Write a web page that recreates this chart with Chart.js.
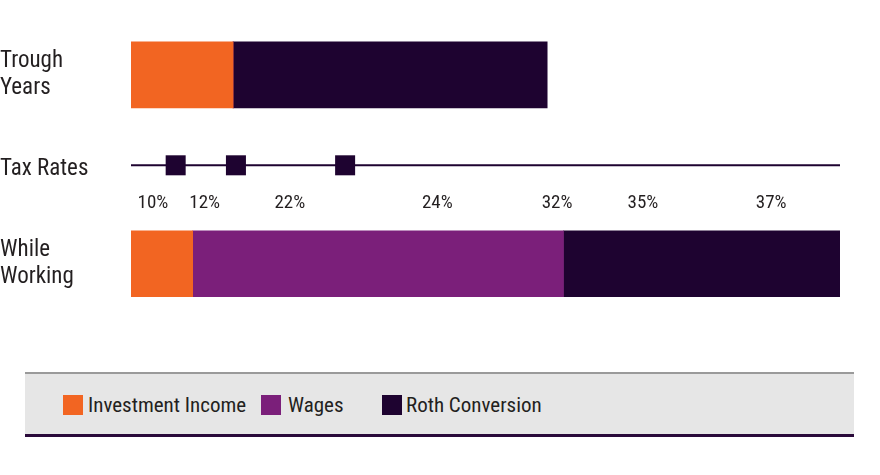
<!DOCTYPE html>
<html><head><meta charset="utf-8">
<script src="https://cdn.jsdelivr.net/npm/chart.js@4"></script>
<style>
body{margin:0;width:880px;height:475px;background:#fff;position:relative;font-family:'Liberation Sans Narrow','Roboto Condensed','Liberation Sans',sans-serif;}
#wrap{position:absolute;left:0;top:0;width:880px;height:340px;}
#legend{position:absolute;left:25px;top:372px;width:829px;height:60px;background:#e6e6e6;border-top:2px solid #9a9a9a;border-bottom:3px solid #2a0a3a;}
.it{position:absolute;top:20px;font-size:21px;color:#231f20;line-height:22px;}
.sw{position:absolute;left:-25px;top:1px;width:20px;height:20px;}
</style></head><body>
<div id="wrap"><canvas id="c"></canvas></div>
<div id="legend">
<div class="it" style="left:38px"><span class="sw" style="left:0;background:#f26522"></span><span style="margin-left:25px">Investment Income</span></div>
<div class="it" style="left:236px"><span class="sw" style="left:0;background:#7b1f7a"></span><span style="margin-left:27px">Wages</span></div>
<div class="it" style="left:357px"><span class="sw" style="left:0;background:#1e0330"></span><span style="margin-left:24px">Roth Conversion</span></div>
</div>
<script>
const categories=[["Trough","Years"],"Tax Rates",["While","Working"]];
const investmentIncome=[14.4,null,8.7];
const wages=[0,null,52.3];
const rothConversion=[44.3,null,39.0];
const markerPositions=[6.3,14.8,30.2];
const taxRateLabels=["10%","12%","22%","24%","32%","35%","37%"];
const taxRateLabelPositions=[3.1,10.4,22.4,43.2,60.1,72.2,90.3];
const FONT="'Liberation Sans Narrow','Roboto Condensed','Liberation Sans',sans-serif";
const taxPlugin={id:'tax',afterDatasetsDraw(chart){
 const ctx=chart.ctx,x=chart.scales.x,y=chart.scales.y;
 const yp=y.getPixelForValue(1)-4;
 ctx.save();
 ctx.strokeStyle='#1e0330';ctx.lineWidth=2;
 ctx.beginPath();ctx.moveTo(x.getPixelForValue(0),yp);ctx.lineTo(x.getPixelForValue(100),yp);ctx.stroke();
 ctx.fillStyle='#1e0330';
 markerPositions.forEach(v=>{const px=x.getPixelForValue(v);ctx.fillRect(px-10,yp-10,20,20);});
 ctx.fillStyle='#231f20';ctx.font='19px '+FONT;ctx.textAlign='center';ctx.textBaseline='middle';
 taxRateLabels.forEach((t,i)=>ctx.fillText(t,x.getPixelForValue(taxRateLabelPositions[i]),yp+38));
 ctx.restore();
}};
new Chart(document.getElementById('c'),{
 type:'bar',
 data:{labels:categories,datasets:[
  {label:'Investment Income',data:investmentIncome,backgroundColor:'#f26522'},
  {label:'Wages',data:wages,backgroundColor:'#7b1f7a'},
  {label:'Roth Conversion',data:rothConversion,backgroundColor:'#1e0330'}
 ]},
 options:{indexAxis:'y',responsive:true,maintainAspectRatio:false,animation:false,
  datasets:{bar:{barThickness:66}},
  layout:{padding:{top:24,bottom:29,right:40,left:0}},
  plugins:{legend:{display:false},tooltip:{enabled:false}},
  scales:{
   x:{stacked:true,min:0,max:100,display:false},
   y:{stacked:true,grid:{display:false},border:{display:false},
      afterFit(s){s.width=131;},
      ticks:{crossAlign:'far',padding:0,color:'#231f20',font:{family:FONT,size:23},lineHeight:1.4}}
  }},
 plugins:[taxPlugin]
});
</script></body></html>
